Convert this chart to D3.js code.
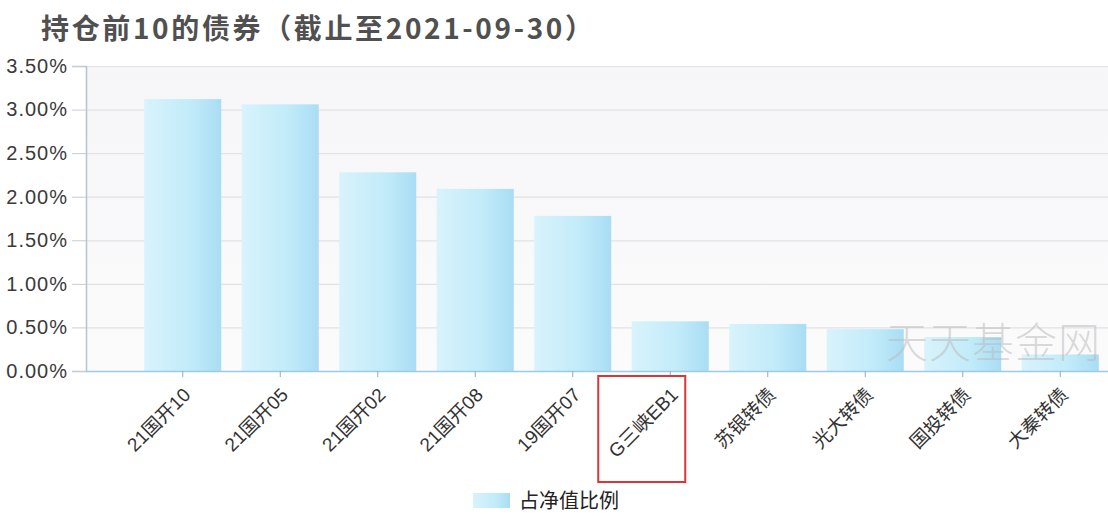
<!DOCTYPE html>
<html><head><meta charset="utf-8">
<script src="https://cdnjs.cloudflare.com/ajax/libs/d3/7.8.5/d3.min.js"></script>
<style>body{margin:0;background:#fff}svg{display:block}</style>
</head><body><svg id="c" width="1108" height="520"></svg>
<script>
const categories = ["21国开10","21国开05","21国开02","21国开08","19国开07","G三峡EB1","苏银转债","光大转债","国投转债","大秦转债"];
const values = [3.12, 3.06, 2.28, 2.09, 1.78, 0.57, 0.54, 0.48, 0.39, 0.19];
const yTicks = [0, 0.5, 1.0, 1.5, 2.0, 2.5, 3.0, 3.5];
const titleText = "持仓前10的债券（截止至2021-09-30）";
const legendLabel = "占净值比例";
const watermark = "天天基金网";
const highlighted = "G三峡EB1";

const svg = d3.select("#c");
const pLeft = 86, pTop = 66, pBottom = 371, pRight = 1108;
const x = d3.scaleBand().domain(categories).range([134, 1109]).paddingInner(0.21).paddingOuter(0.105);
const y = d3.scaleLinear().domain([0, 3.5]).range([pBottom, pTop]);

const defs = svg.append("defs");
const g1 = defs.append("linearGradient").attr("id","bar").attr("x1",0).attr("x2",1).attr("y1",0).attr("y2",0);
g1.append("stop").attr("offset","0%").attr("stop-color","#d8f3fc");
g1.append("stop").attr("offset","60%").attr("stop-color","#c2ebf9");
g1.append("stop").attr("offset","100%").attr("stop-color","#a9ddf4");
const g2 = defs.append("linearGradient").attr("id","bg").attr("x1",0).attr("x2",0).attr("y1",0).attr("y2",1);
g2.append("stop").attr("offset","0%").attr("stop-color","#f6f6f8");
g2.append("stop").attr("offset","100%").attr("stop-color","#fbfbfc");

// title
svg.append("text").attr("x", 41).attr("y", 39)
  .attr("font-family", "'Noto Sans CJK SC', sans-serif").attr("font-size", 28).attr("font-weight", 700)
  .attr("textLength", 552).attr("lengthAdjust", "spacing")
  .attr("fill", "#505050").text(titleText);

// plot background
svg.append("rect").attr("x", pLeft).attr("y", pTop).attr("width", pRight-pLeft).attr("height", pBottom-pTop).attr("fill","url(#bg)");

// grid
svg.append("g").selectAll("line").data(yTicks.filter(d=>d>0)).join("line")
  .attr("x1", pLeft).attr("x2", pRight).attr("y1", d=>y(d)+0.5).attr("y2", d=>y(d)+0.5)
  .attr("stroke", "#e2e2e4").attr("stroke-width", 1.2);

// y axis
const yAxis = svg.append("g").attr("transform", `translate(${pLeft},0)`)
  .call(d3.axisLeft(y).tickValues(yTicks).tickSize(14).tickPadding(4).tickFormat(d => d.toFixed(2) + "%"));
yAxis.select(".domain").attr("stroke", "#b8c4cc").attr("stroke-width", 1.5);
yAxis.selectAll(".tick line").attr("stroke", "#c8ccd0");
yAxis.selectAll("text").attr("font-family", "'Liberation Sans', Arial, sans-serif").attr("font-size", 20)
  .attr("letter-spacing", 1).attr("fill", "#3a3a3a");

// bars
svg.append("g").selectAll("rect").data(values).join("rect")
  .attr("x", (d,i)=>x(categories[i])).attr("width", x.bandwidth())
  .attr("y", d=>y(d)).attr("height", d=>pBottom - y(d)).attr("fill","url(#bar)");

// x axis
const xAxis = svg.append("g").attr("transform", `translate(0,${pBottom})`)
  .call(d3.axisBottom(x).tickSize(6).tickSizeOuter(0));
xAxis.select(".domain").attr("stroke", "#9ccbe6").attr("stroke-width", 1.5).attr("d", `M${pLeft},0.5H${pRight}`);
xAxis.selectAll(".tick line").attr("stroke", "#9ab").attr("stroke-width", 1);
xAxis.selectAll("text")
  .attr("font-family", "'Liberation Sans', 'Noto Sans CJK SC', sans-serif").attr("font-size", 19).attr("fill", "#333")
  .attr("text-anchor", "end").attr("dy", "0.35em")
  .attr("transform", "translate(-2,14) rotate(-45)");

// highlight box
const hx = x(highlighted) + x.bandwidth()/2;
svg.append("rect").attr("x", hx - 72).attr("y", 376).attr("width", 87).attr("height", 106)
  .attr("fill","none").attr("stroke","#d8373a").attr("stroke-width", 2);

// watermark
svg.append("text").attr("x", 886).attr("y", 358)
  .attr("font-family", "'Noto Sans CJK SC', sans-serif").attr("font-size", 42).attr("font-weight", 300)
  .attr("fill", "#bbbbbb").attr("fill-opacity", 0.55).attr("letter-spacing", 1).text(watermark);

// legend
svg.append("rect").attr("x", 473).attr("y", 493).attr("width", 37).attr("height", 15).attr("fill","url(#bar)");
svg.append("text").attr("x", 519).attr("y", 501).attr("dy","0.35em")
  .attr("font-family", "'Noto Sans CJK SC', sans-serif").attr("font-size", 20).attr("fill", "#222").text(legendLabel);
</script></body></html>
